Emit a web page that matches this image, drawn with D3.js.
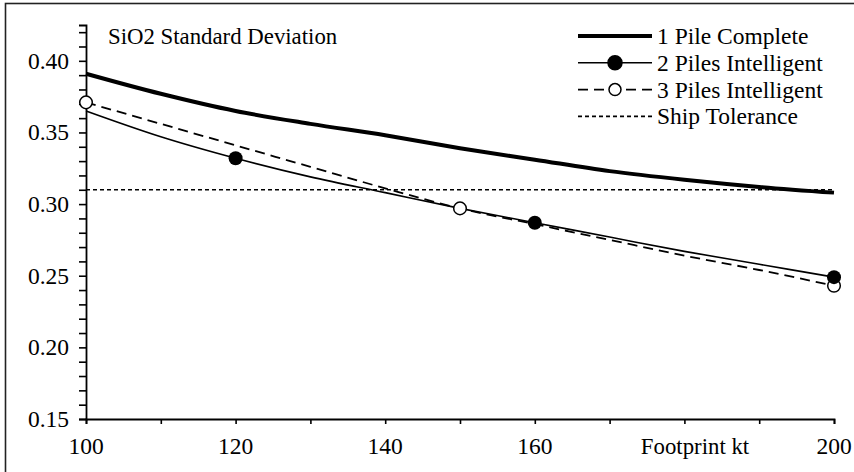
<!DOCTYPE html>
<html>
<head>
<meta charset="utf-8">
<script src="https://cdn.jsdelivr.net/npm/d3@7/dist/d3.min.js"></script>
<style>
  body { margin: 0; background: #fff; }
</style>
</head>
<body>
<div id="container"><svg></svg></div>
<script>
let width = 854;
let height = 472;

// footprint (kt) along the x axis
let footprint = [100, 110, 120, 130, 140, 150, 160, 170, 180, 190, 200];
// SiO2 standard deviation
let pile1Complete = [0.391, 0.377, 0.365, 0.356, 0.348, 0.339, 0.331, 0.323, 0.317, 0.312, 0.308];
let piles2Intelligent = [0.365, 0.347, 0.332, 0.319, 0.308, 0.297, 0.287, 0.277, 0.267, 0.258, 0.249];
let piles3Intelligent = [0.371, 0.356, 0.341, 0.326, 0.311, 0.297, 0.286, 0.275, 0.264, 0.254, 0.243];
let shipTolerance = 0.31;
// which footprints carry a marker
let piles2Markers = [120, 160, 200];
let piles3Markers = [100, 150, 200];

let xTicks = [100, 120, 140, 160, 200];
let yTicks = [0.15, 0.20, 0.25, 0.30, 0.35, 0.40];
let legendLabels = ['1 Pile Complete', '2 Piles Intelligent', '3 Piles Intelligent', 'Ship Tolerance'];

let font = "'Liberation Serif', 'Times New Roman', Times, 'DejaVu Serif', serif";

let svg = d3.select('#container').select('svg')
    .attr('width', width)
    .attr('height', height)
    .attr('font-family', font);

// outer frame (only top and left edges are inside the picture)
svg.append('rect')
    .attr('x', 5.5).attr('y', 3.5)
    .attr('width', 1000).attr('height', 1000)
    .attr('fill', 'none')
    .attr('stroke', '#222')
    .attr('stroke-width', 1.6);

let x = d3.scaleLinear().domain([100, 200]).range([86, 834]);
let y = d3.scaleLinear().domain([0.15, 0.425]).range([419, 25]);

// axes
let xAxis = svg.append('g')
    .attr('transform', `translate(0, ${y(0.15)})`)
    .call(d3.axisBottom(x).tickValues(d3.range(100, 201, 10)).tickSize(5).tickFormat(''));
let yAxis = svg.append('g')
    .attr('transform', `translate(${x(100)}, 0)`)
    .call(d3.axisLeft(y).tickValues(d3.range(15, 43).map(v => v / 100)).tickSize(7).tickFormat(''));
[xAxis, yAxis].forEach(a => {
    a.select('.domain').attr('stroke', '#000').attr('stroke-width', 1.8);
    a.selectAll('.tick line').attr('stroke', '#000').attr('stroke-width', 1.6);
});

function label(sel, size) {
    return sel.attr('font-family', font).style('font-size', size || '23.5px').attr('fill', '#000');
}

// tick labels
svg.append('g').selectAll('text')
    .data(xTicks)
    .join('text')
    .attr('x', d => x(d))
    .attr('y', 446)
    .attr('text-anchor', 'middle')
    .attr('dominant-baseline', 'central')
    .call(label)
    .text(d => d);
svg.append('g').selectAll('text')
    .data(yTicks)
    .join('text')
    .attr('x', 69)
    .attr('y', d => y(d))
    .attr('text-anchor', 'end')
    .attr('dominant-baseline', 'central')
    .call(label)
    .text(d => d.toFixed(2));

svg.append('text')
    .attr('x', 695)
    .attr('y', 446)
    .attr('text-anchor', 'middle')
    .attr('dominant-baseline', 'central')
    .call(label, '22.8px')
    .text('Footprint kt');

svg.append('text')
    .attr('x', 108)
    .attr('y', 44)
    .call(label, '22.8px')
    .text('SiO2 Standard Deviation');

// series
let line = d3.line()
    .x(d => x(d[0]))
    .y(d => y(d[1]))
    .curve(d3.curveMonotoneX);

function pairs(vals) {
    return footprint.map((f, i) => [f, vals[i]]);
}

svg.append('line')
    .attr('x1', x(100)).attr('x2', x(200))
    .attr('y1', y(shipTolerance)).attr('y2', y(shipTolerance))
    .attr('stroke', '#000')
    .attr('stroke-width', 1.6)
    .attr('stroke-dasharray', '4,3');

svg.append('path')
    .attr('d', line(pairs(pile1Complete)))
    .attr('fill', 'none')
    .attr('stroke', '#000')
    .attr('stroke-width', 4);

svg.append('path')
    .attr('d', line(pairs(piles3Intelligent)))
    .attr('fill', 'none')
    .attr('stroke', '#000')
    .attr('stroke-width', 1.8)
    .attr('stroke-dasharray', '10,6');

svg.append('path')
    .attr('d', line(pairs(piles2Intelligent)))
    .attr('fill', 'none')
    .attr('stroke', '#000')
    .attr('stroke-width', 1.6);

svg.append('g').selectAll('circle')
    .data(piles3Markers)
    .join('circle')
    .attr('cx', d => x(d))
    .attr('cy', d => y(piles3Intelligent[footprint.indexOf(d)]))
    .attr('r', 6.3)
    .attr('fill', '#fff')
    .attr('stroke', '#000')
    .attr('stroke-width', 1.5);

svg.append('g').selectAll('circle')
    .data(piles2Markers)
    .join('circle')
    .attr('cx', d => x(d))
    .attr('cy', d => y(piles2Intelligent[footprint.indexOf(d)]))
    .attr('r', 7)
    .attr('fill', '#000');

// legend
let legendStyles = [
    {w: 4, dash: null, marker: null},
    {w: 1.6, dash: null, marker: 'filled'},
    {w: 1.8, dash: '10,6', marker: 'open'},
    {w: 1.6, dash: '4,3', marker: null}
];
let legend = svg.append('g');
let row = legend.selectAll('g')
    .data(legendLabels)
    .join('g')
    .attr('transform', (d, i) => `translate(0, ${36 + i * 26.8})`);
row.append('line')
    .attr('x1', 578).attr('x2', 652)
    .attr('stroke', '#000')
    .attr('stroke-width', (d, i) => legendStyles[i].w)
    .attr('stroke-dasharray', (d, i) => legendStyles[i].dash);
row.filter((d, i) => legendStyles[i].marker !== null)
    .append('circle')
    .attr('cx', 615)
    .attr('r', d => legendStyles[legendLabels.indexOf(d)].marker === 'filled' ? 7 : 6)
    .attr('fill', d => legendStyles[legendLabels.indexOf(d)].marker === 'filled' ? '#000' : '#fff')
    .attr('stroke', '#000')
    .attr('stroke-width', 1.5);
row.append('text')
    .attr('x', 657)
    .attr('dominant-baseline', 'central')
    .call(label)
    .text(d => d);
</script>
</body>
</html>
